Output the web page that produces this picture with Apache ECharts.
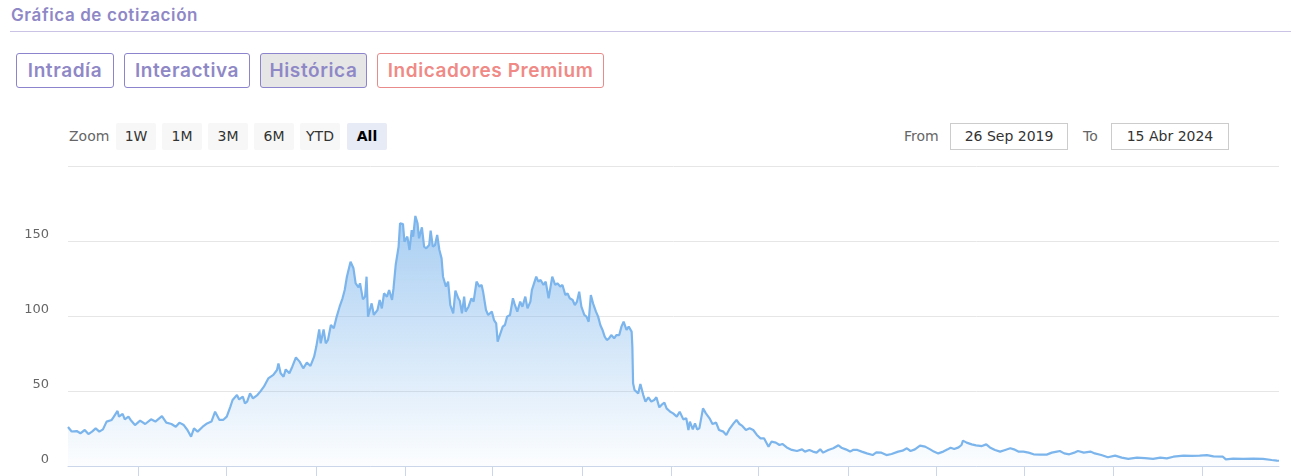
<!DOCTYPE html>
<html>
<head>
<meta charset="utf-8">
<title>Gráfica de cotización</title>
<script src="https://cdn.jsdelivr.net/npm/echarts@6/dist/echarts.min.js"></script>
<style>
  body { margin: 0; width: 1308px; height: 476px; overflow: hidden; background: #fff; font-family: 'DejaVu Sans', sans-serif; }
  .title { position: absolute; left: 11px; top: 5px; font: 600 17px Inter, sans-serif; letter-spacing: 0.6px; color: #8f88c6; }
  .rule { position: absolute; left: 10px; top: 31px; width: 1281px; height: 1px; background: #cbc3e6; }
  .tab { position: absolute; top: 53px; height: 35px; box-sizing: border-box; border: 1px solid #8c84cc; border-radius: 3px;
         font: 600 19px Inter, sans-serif; letter-spacing: 0.6px; color: #8f88c6; text-align: center; line-height: 33px; }
  .tab.on { background: #e6e6e6; }
  .tab.premium { border-color: #e98b8b; color: #ef8a86; }
  .lbl { position: absolute; top: 123px; line-height: 27px; font-size: 14px; color: #666; }
  .rbtn { position: absolute; top: 123px; width: 40px; height: 27px; line-height: 27px; background: #f7f7f7; border-radius: 2px;
          font-size: 14px; color: #333; text-align: center; }
  .rbtn.on { background: #e6ebf5; color: #000; font-weight: bold; }
  .date { position: absolute; top: 123px; width: 118px; height: 27px; box-sizing: border-box; border: 1px solid #ccc;
          line-height: 25px; font-size: 14px; color: #333; text-align: center; }
  #chart { position: absolute; left: 0; top: 160px; width: 1308px; height: 316px; }
</style>
</head>
<body>
<div class="title">Gráfica de cotización</div>
<div class="rule"></div>
<div class="tab" style="left:16px;width:98px">Intradía</div>
<div class="tab" style="left:124px;width:126px">Interactiva</div>
<div class="tab on" style="left:260px;width:107px">Histórica</div>
<div class="tab premium" style="left:377px;width:227px">Indicadores Premium</div>

<div class="lbl" style="left:69px">Zoom</div>
<div class="rbtn" style="left:116px">1W</div>
<div class="rbtn" style="left:162px">1M</div>
<div class="rbtn" style="left:208px">3M</div>
<div class="rbtn" style="left:254px">6M</div>
<div class="rbtn" style="left:300px">YTD</div>
<div class="rbtn on" style="left:347px">All</div>

<div class="lbl" style="left:904px">From</div>
<div class="date" style="left:950px">26 Sep 2019</div>
<div class="lbl" style="left:1083px">To</div>
<div class="date" style="left:1111px">15 Abr 2024</div>

<div id="chart"></div>

<script>
// cotización histórica
const dates = [
  '2019-09-26','2019-10-01','2019-10-08','2019-10-13','2019-10-19','2019-10-24','2019-10-29','2019-11-03','2019-11-08','2019-11-13',
  '2019-11-18','2019-11-25','2019-11-28','2019-12-03','2019-12-05','2019-12-10','2019-12-13','2019-12-18','2019-12-21','2019-12-27',
  '2020-01-03','2020-01-10','2020-01-18','2020-01-24','2020-02-02','2020-02-08','2020-02-15','2020-02-21','2020-02-26','2020-03-03',
  '2020-03-08','2020-03-13','2020-03-17','2020-03-22','2020-03-29','2020-04-04','2020-04-10','2020-04-15','2020-04-21','2020-04-26',
  '2020-05-01','2020-05-06','2020-05-09','2020-05-15','2020-05-18','2020-05-23','2020-05-26','2020-05-29','2020-06-02','2020-06-06',
  '2020-06-12','2020-06-16','2020-06-21','2020-06-27','2020-07-04','2020-07-09','2020-07-11','2020-07-14','2020-07-18','2020-07-21',
  '2020-07-26','2020-07-30','2020-08-04','2020-08-09','2020-08-14','2020-08-19','2020-08-24','2020-08-29','2020-09-01','2020-09-05',
  '2020-09-07','2020-09-11','2020-09-14','2020-09-17','2020-09-21','2020-09-25','2020-09-29','2020-10-03','2020-10-07','2020-10-10',
  '2020-10-13','2020-10-18','2020-10-22','2020-10-25','2020-10-29','2020-10-31','2020-11-04','2020-11-07','2020-11-09','2020-11-11',
  '2020-11-16','2020-11-19','2020-11-24','2020-11-27','2020-11-30','2020-12-03','2020-12-07','2020-12-10','2020-12-14','2020-12-16',
  '2020-12-19','2020-12-23','2020-12-25','2020-12-29','2020-12-31','2021-01-04','2021-01-07','2021-01-10','2021-01-12','2021-01-15',
  '2021-01-18','2021-01-20','2021-01-24','2021-01-27','2021-01-30','2021-02-03','2021-02-05','2021-02-08','2021-02-11','2021-02-14',
  '2021-02-17','2021-02-20','2021-02-22','2021-02-26','2021-03-01','2021-03-04','2021-03-08','2021-03-11','2021-03-15','2021-03-17',
  '2021-03-20','2021-03-23','2021-03-25','2021-03-29','2021-04-02','2021-04-05','2021-04-09','2021-04-13','2021-04-16','2021-04-18',
  '2021-04-22','2021-04-25','2021-04-30','2021-05-03','2021-05-06','2021-05-08','2021-05-11','2021-05-15','2021-05-18','2021-05-21',
  '2021-05-25','2021-05-29','2021-05-31','2021-06-04','2021-06-08','2021-06-11','2021-06-15','2021-06-18','2021-06-22','2021-06-24',
  '2021-06-27','2021-06-30','2021-07-03','2021-07-06','2021-07-10','2021-07-13','2021-07-17','2021-07-19','2021-07-22','2021-07-26',
  '2021-07-29','2021-08-02','2021-08-05','2021-08-09','2021-08-12','2021-08-15','2021-08-19','2021-08-22','2021-08-25','2021-08-28',
  '2021-08-31','2021-09-04','2021-09-07','2021-09-10','2021-09-13','2021-09-16','2021-09-20','2021-09-23','2021-09-26','2021-09-29',
  '2021-10-02','2021-10-05','2021-10-08','2021-10-11','2021-10-15','2021-10-18','2021-10-22','2021-10-25','2021-10-28','2021-11-01',
  '2021-11-04','2021-11-08','2021-11-09','2021-11-10','2021-11-12','2021-11-17','2021-11-20','2021-11-24','2021-11-27','2021-12-01',
  '2021-12-05','2021-12-09','2021-12-12','2021-12-16','2021-12-19','2021-12-23','2021-12-26','2021-12-31','2022-01-04','2022-01-09',
  '2022-01-13','2022-01-18','2022-01-22','2022-01-25','2022-01-27','2022-01-31','2022-02-03','2022-02-06','2022-02-09','2022-02-14',
  '2022-02-18','2022-02-23','2022-02-27','2022-03-04','2022-03-08','2022-03-14','2022-03-18','2022-03-22','2022-03-28','2022-04-01',
  '2022-04-05','2022-04-09','2022-04-14','2022-04-19','2022-04-24','2022-04-29','2022-05-04','2022-05-09','2022-05-15','2022-05-19',
  '2022-05-25','2022-05-30','2022-06-03','2022-06-09','2022-06-16','2022-06-23','2022-06-30','2022-07-04','2022-07-10','2022-07-15',
  '2022-07-20','2022-07-25','2022-07-29','2022-08-05','2022-08-12','2022-08-19','2022-08-23','2022-08-29','2022-09-04','2022-09-08',
  '2022-09-14','2022-09-20','2022-09-27','2022-10-05','2022-10-10','2022-10-17','2022-10-24','2022-10-31','2022-11-09','2022-11-15',
  '2022-11-21','2022-11-26','2022-12-02','2022-12-09','2022-12-16','2022-12-23','2022-12-28','2023-01-03','2023-01-10','2023-01-16',
  '2023-01-20','2023-01-25','2023-01-31','2023-02-04','2023-02-06','2023-02-11','2023-02-18','2023-02-24','2023-03-04','2023-03-10',
  '2023-03-15','2023-03-22','2023-03-29','2023-04-05','2023-04-12','2023-04-17','2023-04-23','2023-04-30','2023-05-07','2023-05-14',
  '2023-05-23','2023-06-01','2023-06-08','2023-06-15','2023-06-19','2023-06-25','2023-07-02','2023-07-10','2023-07-14','2023-07-22',
  '2023-07-31','2023-08-06','2023-08-15','2023-08-24','2023-09-03','2023-09-12','2023-09-21','2023-10-03','2023-10-14','2023-10-25',
  '2023-11-04','2023-11-13','2023-11-22','2023-12-06','2023-12-17','2023-12-28','2024-01-07','2024-01-16','2024-01-29','2024-02-02',
  '2024-02-12','2024-02-26','2024-03-11','2024-03-24','2024-04-05','2024-04-12','2024-04-15'
]
const prices = [
  26, 23, 23.3, 21.8, 24, 21.3, 22.9, 25.1, 22.9, 24.4,
  29.6, 30.7, 32.9, 36.7, 32.9, 34.7, 31.1, 32.9, 30.7, 27.3,
  30.2, 28, 31.1, 29.6, 33.3, 28.9, 28, 26.2, 28.9, 27.3,
  24, 19.6, 25.1, 22.9, 26.2, 28.4, 29.6, 36.2, 30.7, 30.7,
  32.9, 39.6, 44, 47.3, 44.4, 46.2, 41.8, 42.9, 48.4, 45.1,
  47.3, 49.6, 52.9, 58.4, 60.7, 64, 68.4, 61.8, 59.5, 64.4,
  61.8, 66.2, 72.4, 69.6, 65.1, 68.9, 66.7, 72.9, 79.6, 91.1,
  81.8, 91.1, 81.8, 84, 94, 91.8, 99.6, 106.2, 111.8, 117.3,
  126.2, 136.2, 131.8, 121.8, 119.1, 121.8, 111.1, 112.9, 126.2, 99.6,
  108.4, 100.7, 104, 110.7, 105.1, 115.1, 112.9, 117.3, 110.7, 118.4,
  134, 146.2, 161.8, 161.3, 149.6, 152.9, 144, 157.3, 152.9, 166.7,
  161.8, 151.8, 159.1, 146.2, 145.1, 147.3, 156.9, 146.2, 147.3, 154,
  144, 138.4, 126.2, 119.6, 122.9, 107.3, 101.8, 116.9, 111.8, 110.2,
  101.8, 112.9, 102.9, 106.2, 111.8, 109.6, 122.9, 119.6, 120.7, 116.2,
  104, 100.7, 102.9, 97.3, 95.1, 82.9, 87.3, 92.9, 94, 99.6,
  100.7, 111.8, 108.4, 102.9, 109.6, 106.2, 112.9, 105.1, 109.6, 117.3,
  121.8, 126.2, 122.9, 124, 120.7, 122.9, 111.8, 110.7, 126.2, 120.7,
  121.8, 119.6, 120.7, 114, 115.1, 111.8, 110.7, 107.3, 109.6, 116.2,
  106.2, 100.7, 99.6, 96.2, 114, 108.4, 102.9, 99.6, 94, 90.7,
  86.2, 84, 85.1, 87.3, 85.1, 87.3, 87.3, 92.9, 96.2, 90.7,
  92.9, 89.6, 79.6, 55.1, 50.7, 48.4, 54.7, 47.3, 42.9, 45.8,
  42.9, 44, 45.8, 39.1, 40.7, 42.2, 38.4, 36.2, 35.1, 32.9,
  36.2, 31.1, 31.8, 24, 29.6, 24.4, 28.4, 24.4, 25.1, 38.4,
  35.1, 31.8, 28, 28.9, 24, 22.9, 20.7, 24.4, 28.4, 30.7,
  28, 26.7, 24, 25.1, 24, 20.7, 18.4, 18.4, 12.9, 16.2,
  15.6, 14, 14.7, 12.4, 10.7, 10, 11.1, 9.6, 10.7, 9.6,
  8.9, 11.1, 8.9, 10.7, 11.8, 13.8, 12.2, 11.1, 9.6, 10.7,
  10.7, 9.6, 8.4, 7.3, 9.1, 8.9, 7.3, 8, 9.6, 10.2,
  11.8, 10, 11.1, 13.6, 12.9, 11.1, 9.6, 8.4, 9.6, 11.1,
  12.2, 11.3, 12.4, 14, 16.9, 15.6, 14.4, 13.8, 13.3, 14.4,
  12.4, 10.7, 9.6, 10.7, 11.8, 11.1, 9.6, 9.6, 8.9, 7.8,
  7.6, 7.6, 8.9, 9.6, 10, 8.4, 7.8, 9.1, 10, 8.9,
  9.6, 8.4, 7.3, 5.8, 6.9, 5.6, 4.7, 5.6, 5.3, 4.7,
  5.6, 5.1, 6.2, 6.9, 6.7, 6.9, 7.3, 6.4, 6.2, 4.4,
  4.9, 4.7, 4.9, 4.7, 4, 3.6, 3.5
]
const xTicks = [
  '2020-01-01','2020-05-01','2020-09-01','2021-01-01','2021-05-01','2021-09-01','2022-01-01',
  '2022-05-01','2022-09-01','2023-01-01','2023-05-01','2023-09-01','2024-01-01'
]
const rangeStart = '2019-09-26'
const rangeEnd = '2024-04-15'

const chart = echarts.init(document.getElementById('chart'))
const tickValues = xTicks.map(d => +echarts.time.parse(d))

chart.setOption({
  animation: false,
  grid: { left: 68, right: 29, top: 6, bottom: 10 },
  xAxis: {
    type: 'time',
    min: rangeStart,
    max: rangeEnd,
    axisLine: { lineStyle: { color: '#ccd6eb', width: 1 } },
    axisTick: { show: true, customValues: tickValues, length: 12, lineStyle: { color: '#ccd6eb' } },
    axisLabel: { show: false },
    splitLine: { show: false }
  },
  yAxis: {
    type: 'value',
    min: 0,
    max: 200,
    interval: 50,
    axisLine: { show: false },
    axisTick: { show: false },
    axisLabel: {
      showMaxLabel: false,
      margin: 19,
      verticalAlign: 'bottom',
      color: '#666',
      fontSize: 13,
      fontFamily: 'DejaVu Sans'
    },
    splitLine: { lineStyle: { color: '#e6e6e6', width: 1 } }
  },
  series: [
    {
      type: 'line',
      data: dates.map((d, i) => [d, prices[i]]),
      showSymbol: false,
      lineStyle: { color: '#7cb5ec', width: 2.2 },
      itemStyle: { color: '#7cb5ec' },
      areaStyle: {
        color: new echarts.graphic.LinearGradient(0, 0, 0, 1, [
          { offset: 0, color: 'rgba(124,181,236,0.95)' },
          { offset: 1, color: 'rgba(124,181,236,0.03)' }
        ])
      }
    }
  ]
})
</script>
</body>
</html>
